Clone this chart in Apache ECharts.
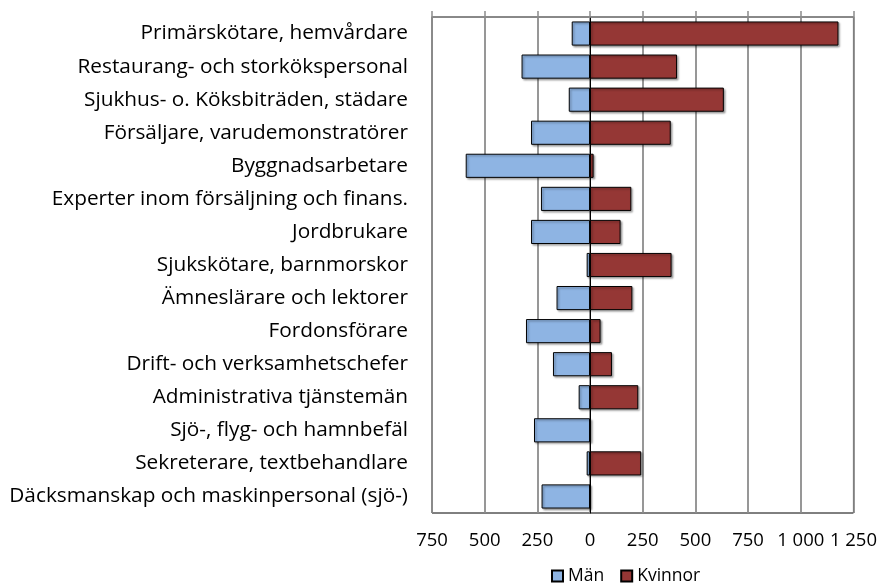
<!DOCTYPE html>
<html>
<head>
<meta charset="utf-8">
<script src="https://cdn.jsdelivr.net/npm/echarts@6/dist/echarts.min.js"></script>
<style>
  html, body { margin: 0; padding: 0; background: #fff; }
  #chart { width: 880px; height: 583px; }
</style>
</head>
<body>
<div id="chart"></div>
<script>
const categories = [
  'Primärskötare, hemvårdare',
  'Restaurang- och storkökspersonal',
  'Sjukhus- o. Köksbiträden, städare',
  'Försäljare, varudemonstratörer',
  'Byggnadsarbetare',
  'Experter inom försäljning och finans.',
  'Jordbrukare',
  'Sjukskötare, barnmorskor',
  'Ämneslärare och lektorer',
  'Fordonsförare',
  'Drift- och verksamhetschefer',
  'Administrativa tjänstemän',
  'Sjö-, flyg- och hamnbefäl',
  'Sekreterare, textbehandlare',
  'Däcksmanskap och maskinpersonal (sjö-)'
]
// men are drawn to the left (negative values)
const man = [-87, -325, -101, -280, -590, -233, -280, -16, -159, -304, -176, -54, -266, -16, -230]
const kvinnor = [1179, 413, 635, 383, 17, 196, 145, 387, 201, 50, 104, 229, 4, 243, 0]

const axisMin = -750
const axisMax = 1250
const axisStep = 250

const fmt = v => {
  const a = Math.abs(v)
  return a >= 1000 ? Math.floor(a / 1000) + ' ' + String(a % 1000).padStart(3, '0') : String(a)
}

const font = 'Open Sans'
const gridGray = '#8c8c8c'

const chart = echarts.init(document.getElementById('chart'))

chart.setOption({
  animation: false,
  textStyle: { fontFamily: font },
  grid: {
    left: 432, right: 24, top: 17, bottom: 70,
    show: true, borderColor: '#000', borderWidth: 1
  },
  legend: {
    data: ['Män', 'Kvinnor'],
    left: 546, top: 562,
    itemWidth: 11, itemHeight: 11, itemGap: 16,
    icon: 'rect',
    textStyle: { fontSize: 17.5, color: '#000', fontFamily: font }
  },
  xAxis: [
    {
      type: 'value', position: 'top',
      min: axisMin, max: axisMax, interval: axisStep,
      axisLine: { show: true, lineStyle: { color: gridGray, width: 1.5 } },
      axisTick: { show: true, length: 6, lineStyle: { color: gridGray, width: 1.5 } },
      axisLabel: { show: false },
      splitLine: { show: true, lineStyle: { color: gridGray, width: 1.8 } }
    },
    {
      type: 'value', position: 'bottom',
      min: axisMin, max: axisMax, interval: axisStep,
      axisLine: { show: false },
      axisTick: { show: false },
      splitLine: { show: false },
      axisLabel: { formatter: fmt, fontSize: 18.5, color: '#000', margin: 18, fontFamily: font }
    }
  ],
  yAxis: {
    type: 'category', data: categories, inverse: true,
    axisLine: { show: true, lineStyle: { color: '#000', width: 1 } },
    axisTick: { show: false },
    axisLabel: { fontSize: 20.8, color: '#000', margin: 24, fontFamily: font }
  },
  series: [
    {
      name: 'Män', type: 'bar', data: man,
      barWidth: '73%', barGap: '-100%',
      itemStyle: {
        color: '#8eb4e3', borderColor: '#000', borderWidth: 1,
        shadowColor: 'rgba(0,0,0,0.35)', shadowOffsetX: 1.5, shadowOffsetY: 1.5, shadowBlur: 2
      }
    },
    {
      name: 'Kvinnor', type: 'bar', data: kvinnor,
      barWidth: '73%',
      itemStyle: {
        color: '#953735', borderColor: '#000', borderWidth: 1,
        shadowColor: 'rgba(0,0,0,0.35)', shadowOffsetX: 1.5, shadowOffsetY: 1.5, shadowBlur: 2
      }
    }
  ]
})
</script>
</body>
</html>
